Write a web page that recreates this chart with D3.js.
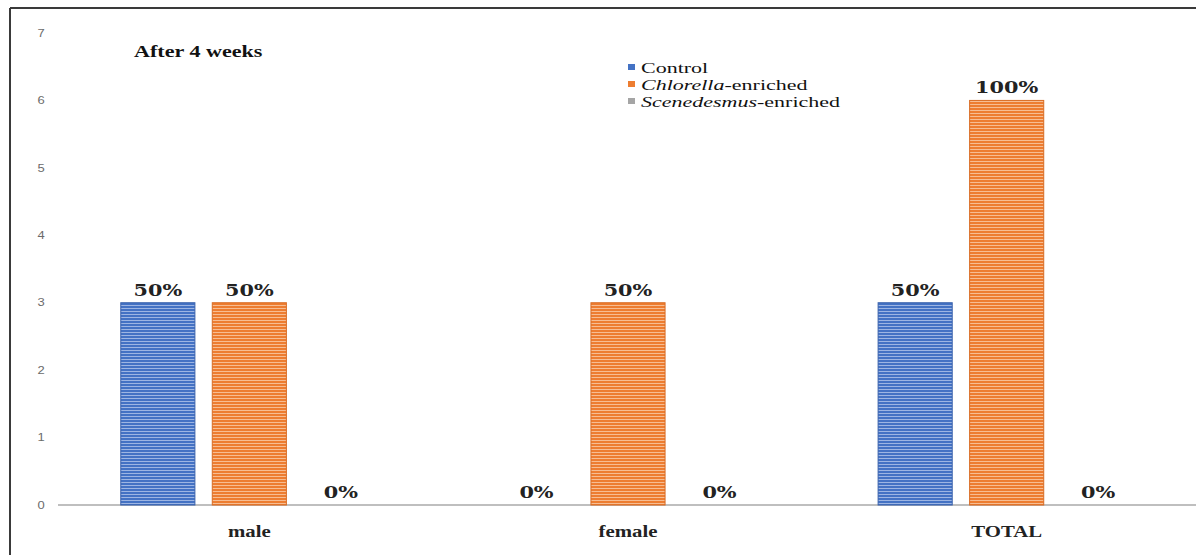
<!DOCTYPE html>
<html>
<head>
<meta charset="utf-8">
<script src="https://cdn.jsdelivr.net/npm/d3@7"></script>
<style>
  html, body { margin: 0; padding: 0; background: #fff; }
  svg { display: block; }
</style>
</head>
<body>
<svg id="chart" width="1196" height="555"></svg>
<script>
// Chart data
const categories = ["male", "female", "TOTAL"];
const seriesNames = ["Control", "Chlorella-enriched", "Scenedesmus-enriched"];
const controlValues = [3, 0, 3];
const chlorellaValues = [3, 3, 6];
const scenedesmusValues = [0, 0, 0];
const controlLabels = ["50%", "0%", "50%"];
const chlorellaLabels = ["50%", "50%", "100%"];
const scenedesmusLabels = ["0%", "0%", "0%"];
const yTicks = [0, 1, 2, 3, 4, 5, 6, 7];
const chartTitle = "After 4 weeks";

const series = [
  { name: seriesNames[0], values: controlValues, labels: controlLabels, base: "#4472C4", light: "#9DB5E3", edge: "#3A62AC" },
  { name: seriesNames[1], values: chlorellaValues, labels: chlorellaLabels, base: "#ED7D31", light: "#F7BD92", edge: "#D86D25" },
  { name: seriesNames[2], values: scenedesmusValues, labels: scenedesmusLabels, base: "#A5A5A5", light: "#CFCFCF", edge: "#8F8F8F" }
];

const W = 1196, H = 555;
const svg = d3.select("#chart");
const SX = 1.3; // horizontal stretch applied to the serif text

// striped fills for the bars
const defs = svg.append("defs");
series.forEach((s, i) => {
  const p = defs.append("pattern")
    .attr("id", "stripe" + i)
    .attr("patternUnits", "userSpaceOnUse")
    .attr("width", 8).attr("height", 3);
  p.append("rect").attr("width", 8).attr("height", 3).attr("fill", s.base);
  p.append("rect").attr("y", 2).attr("width", 8).attr("height", 1).attr("fill", s.light);
});

// frame (top and left edges)
svg.append("line").attr("x1", 10).attr("x2", W).attr("y1", 8).attr("y2", 8)
  .attr("stroke", "#3a3a3a").attr("stroke-width", 2);
svg.append("line").attr("x1", 10).attr("x2", 10).attr("y1", 8).attr("y2", H)
  .attr("stroke", "#3a3a3a").attr("stroke-width", 2);

const x0 = d3.scaleBand().domain(categories).range([60, 1196])
  .paddingInner(0.321).paddingOuter(0.1605);
const x1 = d3.scaleBand().domain(seriesNames).range([0, x0.bandwidth()]).paddingInner(0.19);
const y = d3.scaleLinear().domain([0, 7]).range([505, 33]);

// stretched text helper
function stretched(g, x, yy, txt, sx = SX) {
  return g.append("text")
    .attr("transform", `translate(${x},${yy}) scale(${sx},1)`)
    .text(txt);
}

// y axis tick labels
const yAxis = svg.append("g").attr("transform", "translate(41,0)")
  .call(d3.axisLeft(y).tickValues(yTicks).tickFormat(d3.format("d")).tickSize(0).tickPadding(0));
yAxis.select(".domain").remove();
yAxis.selectAll("text")
  .attr("font-family", "Liberation Sans, Arial, sans-serif")
  .attr("font-size", 10)
  .attr("fill", "#6b6b6b")
  .attr("transform", `scale(${SX},1)`)
  .attr("x", 0)
  .attr("text-anchor", "middle");

// baseline
svg.append("line").attr("x1", 58).attr("x2", W).attr("y1", y(0)).attr("y2", y(0))
  .attr("stroke", "#BFBFBF").attr("stroke-width", 2);

// bars
const groups = svg.append("g").selectAll("g").data(categories).join("g")
  .attr("transform", d => `translate(${x0(d)},0)`);

series.forEach((s, si) => {
  groups.each(function(cat, ci) {
    const v = s.values[ci];
    const g = d3.select(this);
    if (v > 0) {
      g.append("rect")
        .attr("x", x1(s.name))
        .attr("y", y(v))
        .attr("width", x1.bandwidth())
        .attr("height", y(0) - y(v))
        .attr("fill", `url(#stripe${si})`)
        .attr("stroke", s.edge)
        .attr("stroke-width", 1);
    }
    const t = stretched(g, x1(s.name) + x1.bandwidth() / 2, y(v) - 7, s.labels[ci]);
    t.attr("text-anchor", "middle")
      .attr("font-family", "DejaVu Serif, serif")
      .attr("font-weight", "bold")
      .attr("font-size", 16)
      .attr("fill", "#222");
  });
});

// category labels
categories.forEach(c => {
  stretched(svg, x0(c) + x0.bandwidth() / 2, 537, c)
    .attr("text-anchor", "middle")
    .attr("font-family", "Liberation Serif, serif")
    .attr("font-weight", "bold")
    .attr("font-size", 16)
    .attr("fill", "#222");
});

// title
stretched(svg, 134, 57, chartTitle)
  .attr("font-family", "Liberation Serif, serif")
  .attr("font-weight", "bold")
  .attr("font-size", 17)
  .attr("fill", "#111");

// legend
const legendRows = [
  { parts: [["Control", "normal"]] },
  { parts: [["Chlorella", "italic"], ["-enriched", "normal"]] },
  { parts: [["Scenedesmus", "italic"], ["-enriched", "normal"]] }
];
const legend = svg.append("g");
legendRows.forEach((row, i) => {
  const ly = 73 + i * 17;
  legend.append("rect")
    .attr("x", 628).attr("y", ly - 9).attr("width", 7).attr("height", 6)
    .attr("fill", series[i].base);
  const t = stretched(legend, 641, ly, "", 1.42)
    .attr("font-family", "Liberation Serif, serif")
    .attr("font-size", 15.5)
    .attr("fill", "#111");
  row.parts.forEach(([txt, style]) => {
    t.append("tspan").attr("font-style", style).text(txt);
  });
});
</script>
</body>
</html>
